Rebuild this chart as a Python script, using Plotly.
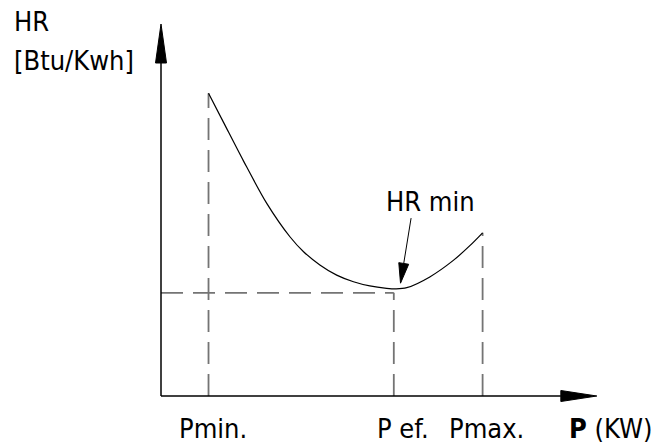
import math
import plotly.graph_objects as go

# Heat-rate curve HR(P) of a generating unit (schematic units)
P_MIN, P_EF, P_MAX = 0.99, 4.85, 6.70
HR_REF = 3.44                      # level of the horizontal guide at P ef.
curve_p = [0.99, 1.30, 1.72, 2.20, 2.69, 2.97, 3.31, 3.66, 4.01, 4.35,
           4.70, 4.90, 5.12, 5.60, 6.09, 6.44, 6.70]
curve_hr = [10.09, 9.13, 7.83, 6.43, 5.30, 4.81, 4.37, 4.03, 3.81, 3.67,
            3.59, 3.57, 3.61, 3.97, 4.52, 5.02, 5.44]
P_AXIS_END, HR_AXIS_END = 9.08, 12.40
HRMIN_ARROW_FROM = (5.21, 5.93)
HRMIN_ARROW_TO = (4.99, 3.76)

tick_labels = ["Pmin.", "P ef.", "Pmax."]
tick_pos = [P_MIN, P_EF, P_MAX]

# Pixel geometry of the canvas
W, H = 658, 445
X0, SX = 161, 48.0   # pixel of P=0, pixels per unit
Y0, SY = 396, 30.0   # pixel of HR=0, pixels per unit

FONT = "DejaVu Sans Condensed, DejaVu Sans"
FS = 27


def arrowhead(tip, frm, length_px, half_w_px):
    """Filled triangle pointing at `tip`, coming from `frm` (data coords)."""
    tx, ty = tip[0] * SX, tip[1] * SY
    fx, fy = frm[0] * SX, frm[1] * SY
    dx, dy = tx - fx, ty - fy
    n = math.hypot(dx, dy)
    ux, uy = dx / n, dy / n
    bx, by = tx - ux * length_px, ty - uy * length_px
    px, py = -uy * half_w_px, ux * half_w_px
    xs = [tx, bx + px, bx - px, tx]
    ys = [ty, by + py, by - py, ty]
    base = (bx / SX, by / SY)
    return [x / SX for x in xs], [y / SY for y in ys], base


fig = go.Figure()

dash_style = dict(color="#747474", width=1.8, dash="22px,10px")
# Guides at Pmin, P ef., Pmax and the HR level
fig.add_trace(go.Scatter(x=[P_MIN, P_MIN], y=[0, curve_hr[0]], mode="lines", line=dash_style))
fig.add_trace(go.Scatter(x=[P_EF, P_EF], y=[0, HR_REF], mode="lines", line=dash_style))
fig.add_trace(go.Scatter(x=[P_MAX, P_MAX], y=[0, curve_hr[-1]], mode="lines", line=dash_style))
fig.add_trace(go.Scatter(x=[0, P_EF], y=[HR_REF, HR_REF], mode="lines", line=dash_style))

# Heat-rate curve
fig.add_trace(go.Scatter(x=curve_p, y=curve_hr, mode="lines",
                         line=dict(color="black", width=1.2, shape="spline", smoothing=0.8)))

# Axes with arrowheads
ax_style = dict(color="black", width=1.5)
yx, yy, ybase = arrowhead((0, HR_AXIS_END), (0, 0), 39, 5.5)
xx, xy, xbase = arrowhead((P_AXIS_END, 0), (0, 0), 36, 5.5)
fig.add_trace(go.Scatter(x=[0, 0], y=[0, ybase[1]], mode="lines", line=ax_style))
fig.add_trace(go.Scatter(x=[0, xbase[0]], y=[0, 0], mode="lines", line=ax_style))
for hx, hy in ((yx, yy), (xx, xy)):
    fig.add_trace(go.Scatter(x=hx, y=hy, mode="lines", fill="toself",
                             fillcolor="black", line=dict(color="black", width=1)))

# "HR min" pointer
mx, my, mbase = arrowhead(HRMIN_ARROW_TO, HRMIN_ARROW_FROM, 20, 5)
fig.add_trace(go.Scatter(x=[HRMIN_ARROW_FROM[0], mbase[0]], y=[HRMIN_ARROW_FROM[1], mbase[1]],
                         mode="lines", line=dict(color="black", width=1)))
fig.add_trace(go.Scatter(x=mx, y=my, mode="lines", fill="toself",
                         fillcolor="black", line=dict(color="black", width=1)))

font = dict(family=FONT, size=FS, color="black")
ann = []
ann.append(dict(text="HR", xref="paper", yref="paper", x=12 / W, y=1 - 22 / H,
                xanchor="left", yanchor="middle", showarrow=False, font=font))
ann.append(dict(text="[Btu/Kwh]", xref="paper", yref="paper", x=12 / W, y=1 - 60 / H,
                xanchor="left", yanchor="middle", showarrow=False, font=font))
ann.append(dict(text="HR min", xref="x", yref="paper", x=(430 - X0) / SX, y=1 - 202 / H,
                xanchor="center", yanchor="middle", showarrow=False, font=font))
label_dx = [0.09, 0.19, 0.08]
for lab, pos, d in zip(tick_labels, tick_pos, label_dx):
    ann.append(dict(text=lab, xref="x", yref="paper", x=pos + d, y=1 - 428 / H,
                    xanchor="center", yanchor="middle", showarrow=False, font=font))
ann.append(dict(text="<b>P</b> (KW)", xref="paper", yref="paper", x=610 / W, y=1 - 428 / H,
                xanchor="center", yanchor="middle", showarrow=False, font=font))

fig.update_layout(
    width=W, height=H,
    margin=dict(l=0, r=0, t=0, b=0),
    paper_bgcolor="white", plot_bgcolor="white",
    showlegend=False,
    annotations=ann,
    xaxis=dict(range=[-X0 / SX, (W - X0) / SX], visible=False, fixedrange=True),
    yaxis=dict(range=[(Y0 - H) / SY, Y0 / SY], visible=False, fixedrange=True),
)

fig.write_html("out.html")
